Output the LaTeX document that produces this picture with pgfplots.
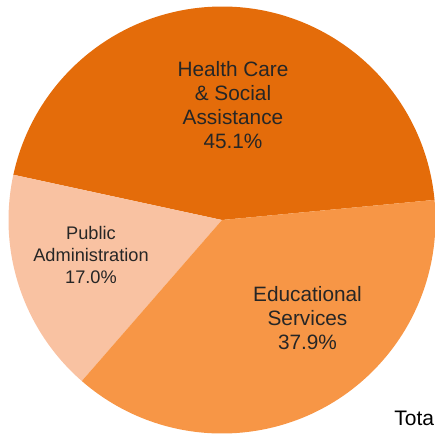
\documentclass[border=0pt]{standalone}
\usepackage{pgfplots}
\pgfplotsset{compat=1.18}
\usepackage{fontspec}
\setmainfont{Liberation Sans}
\definecolor{health}{HTML}{E46C0A}
\definecolor{edu}{HTML}{F79646}
\definecolor{pub}{HTML}{F9C2A2}
% shares (percent)
\def\vHealth{45.1}
\def\vPub{17.0}
\def\vEdu{37.9}
\begin{document}
\begin{tikzpicture}
  \begin{axis}[
    name=pie, hide axis, scale only axis,
    width=217.5pt, height=217.5pt,
    xmin=0, xmax=435, ymin=0, ymax=435,
    clip=true, clip mode=global,
  ]
    \path (rel axis cs:0,0) rectangle (rel axis cs:1,1);
    \pgfmathsetmacro{\aA}{5.4}
    \pgfmathsetmacro{\aB}{\aA+3.6*\vHealth}
    \pgfmathsetmacro{\aC}{\aB+3.6*\vPub}
    \pgfmathsetmacro{\aD}{\aC+3.6*\vEdu}
    \def\R{106.75pt}
    \fill[health] (axis cs:222,215) -- ++(\aA:\R) arc[start angle=\aA, end angle=\aB, radius=\R] -- cycle;
    \fill[pub] (axis cs:222,215) -- ++(\aB:\R) arc[start angle=\aB, end angle=\aC, radius=\R] -- cycle;
    \fill[edu] (axis cs:222,215) -- ++(\aC:\R) arc[start angle=\aC, end angle=\aD, radius=\R] -- cycle;
    \node[align=center, font=\fontsize{10.4pt}{12pt}\selectfont, text=black!85] at (axis cs:233,330) {Health Care\\\& Social\\Assistance\\45.1\%};
    \node[align=center, font=\fontsize{9.1pt}{10.9pt}\selectfont, text=black!85] at (axis cs:91,180) {Public\\Administration\\17.0\%};
    \node[align=center, font=\fontsize{10.4pt}{12pt}\selectfont, text=black!85] at (axis cs:307.5,117) {Educational\\Services\\37.9\%};
    \node[anchor=base west, inner sep=0pt, font=\fontsize{10.5pt}{13pt}\selectfont] at (axis cs:394,10) {Total};
  \end{axis}
  \pgfresetboundingbox
  \useasboundingbox (pie.south west) rectangle (pie.north east);
\end{tikzpicture}
\end{document}
